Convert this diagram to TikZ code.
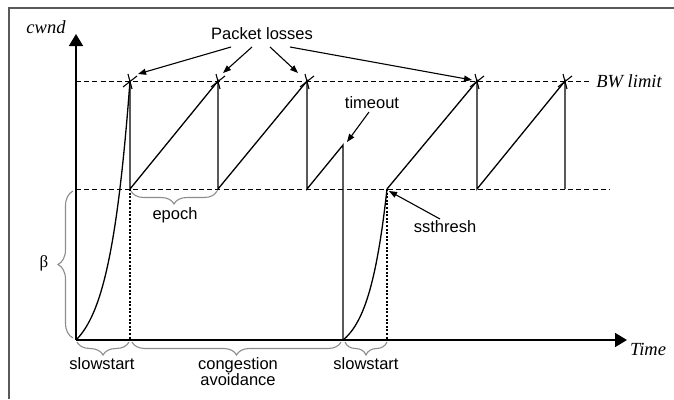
\documentclass[tikz,border=0pt]{standalone}
\usepackage{fontspec}
\setmainfont{Liberation Serif}
\setsansfont{Liberation Sans}
\usetikzlibrary{arrows.meta,decorations.pathreplacing}

\begin{document}
\begin{tikzpicture}[x=1pt,y=-1pt,
  lbl/.style={font=\sffamily\fontsize{16.5}{16}\selectfont, inner sep=0pt, anchor=base},
  axlbl/.style={font=\itshape\fontsize{18.5}{20}\selectfont, inner sep=0pt, anchor=base},
  axis/.style={line width=1.8pt, -{Triangle[length=12pt,width=14pt]}},
  trace/.style={line width=1.3pt, line join=miter},
  level/.style={line width=1pt, dash pattern=on 5pt off 3.2pt},
  drop/.style={line width=1.3pt, dash pattern=on 2pt off 1.6pt},
  pointer/.style={line width=1.1pt, -{Triangle[length=8pt,width=6pt]}},
  brc/.style={draw=black!45, line width=1.1pt, decorate,
    decoration={brace, amplitude=13pt}},
  frame/.style={line width=1.4pt, draw=black!65},
  lossmark/.style={line width=1.1pt}]

\useasboundingbox (0,0) rectangle (674,399);

% outer frame (top and left edges)
\draw[frame] (9,399) -- (9,8) -- (674,8);

% key points of the window trace
\coordinate (O)  at (76,340);
\coordinate (ytip) at (76,34);
\coordinate (xtip) at (627,340);
\coordinate (p1) at (130,81);
\coordinate (p2) at (218,81);
\coordinate (p3) at (307,81);
\coordinate (p4) at (477,81);
\coordinate (p5) at (565,81);
\coordinate (b1) at (130,189);
\coordinate (b2) at (218,189);
\coordinate (b3) at (307,189);
\coordinate (to) at (343,145);
\coordinate (t0) at (343,340);
\coordinate (s2) at (387,189);
\coordinate (b4) at (477,189);
\coordinate (b5) at (565,189);
\coordinate (bwA) at (76,81);
\coordinate (bwB) at (590,81);
\coordinate (ssA) at (76,189);
\coordinate (ssB) at (610,189);
\coordinate (f1) at (130,340);
\coordinate (f2) at (387,340);

% reference levels
\draw[level] (bwA) -- (bwB);
\draw[level] (ssA) -- (ssB);
\draw[drop] (b1) -- (f1);
\draw[drop] (s2) -- (f2);

% axes
\draw[axis] (O) -- (ytip);
\draw[axis] (O) -- (xtip);

% slow start phases
\draw[trace] plot[domain=0:1, samples=60, smooth]
  ({76+54*\x}, {340-259*(exp(2.6*\x)-1)/(exp(2.6)-1)});
\draw[trace] plot[domain=0:1, samples=60, smooth]
  ({343+44*\x}, {340-151*(exp(2.4*\x)-1)/(exp(2.4)-1)});

% congestion avoidance sawtooth
\draw[trace] (p1) -- (b1) -- (p2) -- (b2) -- (p3) -- (b3) -- (to) -- (t0);
\draw[trace] (s2) -- (p4) -- (b4) -- (p5) -- (b5);

% loss marks
\foreach \p in {p1,p2,p3,p4,p5} {
  \draw[lossmark] ([shift={(-7,6)}]\p) -- ([shift={(7,-5)}]\p);
  \draw[lossmark] ([shift={(-2,-7)}]\p) -- ([shift={(2,8)}]\p);
}

% axis labels
\node[axlbl] (cwnd) at (46,33) {cwnd};
\node[axlbl] (time) at (648,355) {Time};
\node[axlbl] (bw) at (629,87) {BW limit};

% annotations
\node[lbl] (loss) at (262,39) {Packet losses};
\coordinate (l1) at (231,47);
\coordinate (l2) at (252,47);
\coordinate (l3) at (270,47);
\coordinate (l4) at (290,47);
\draw[pointer] (l1) -- (138,74);
\draw[pointer] (l2) -- (223,73);
\draw[pointer] (l3) -- (298,73);
\draw[pointer] (l4) -- (472,80);

\node[lbl] (tmo) at (372,108) {timeout};
\coordinate (tm) at (369,112);
\draw[pointer] (tm) -- (347,142);

\node[lbl] (sst) at (445,232) {ssthresh};
\coordinate (st) at (440,219);
\draw[pointer] (st) -- (389,191);

% braces
\draw[brc, decoration={mirror}] (131,191) -- (217,191);
\node[lbl] (epoch) at (175,219) {epoch};
\draw[brc, decoration={amplitude=15pt}] (73,338) -- (73,191);
\node[font=\fontsize{17}{17}\selectfont, inner sep=0pt] (beta) at (44,263) {β};
\draw[brc, decoration={mirror}] (77,342) -- (129,342);
\draw[brc, decoration={mirror}] (132,342) -- (341,342);
\draw[brc, decoration={mirror}] (345,342) -- (387,342);
\node[lbl] (ss1) at (102,369) {slowstart};
\node[lbl] (ca1) at (238,369) {congestion};
\node[lbl] (ca2) at (238,385) {avoidance};
\node[lbl] (ss2) at (366,369) {slowstart};
\end{tikzpicture}
\end{document}
